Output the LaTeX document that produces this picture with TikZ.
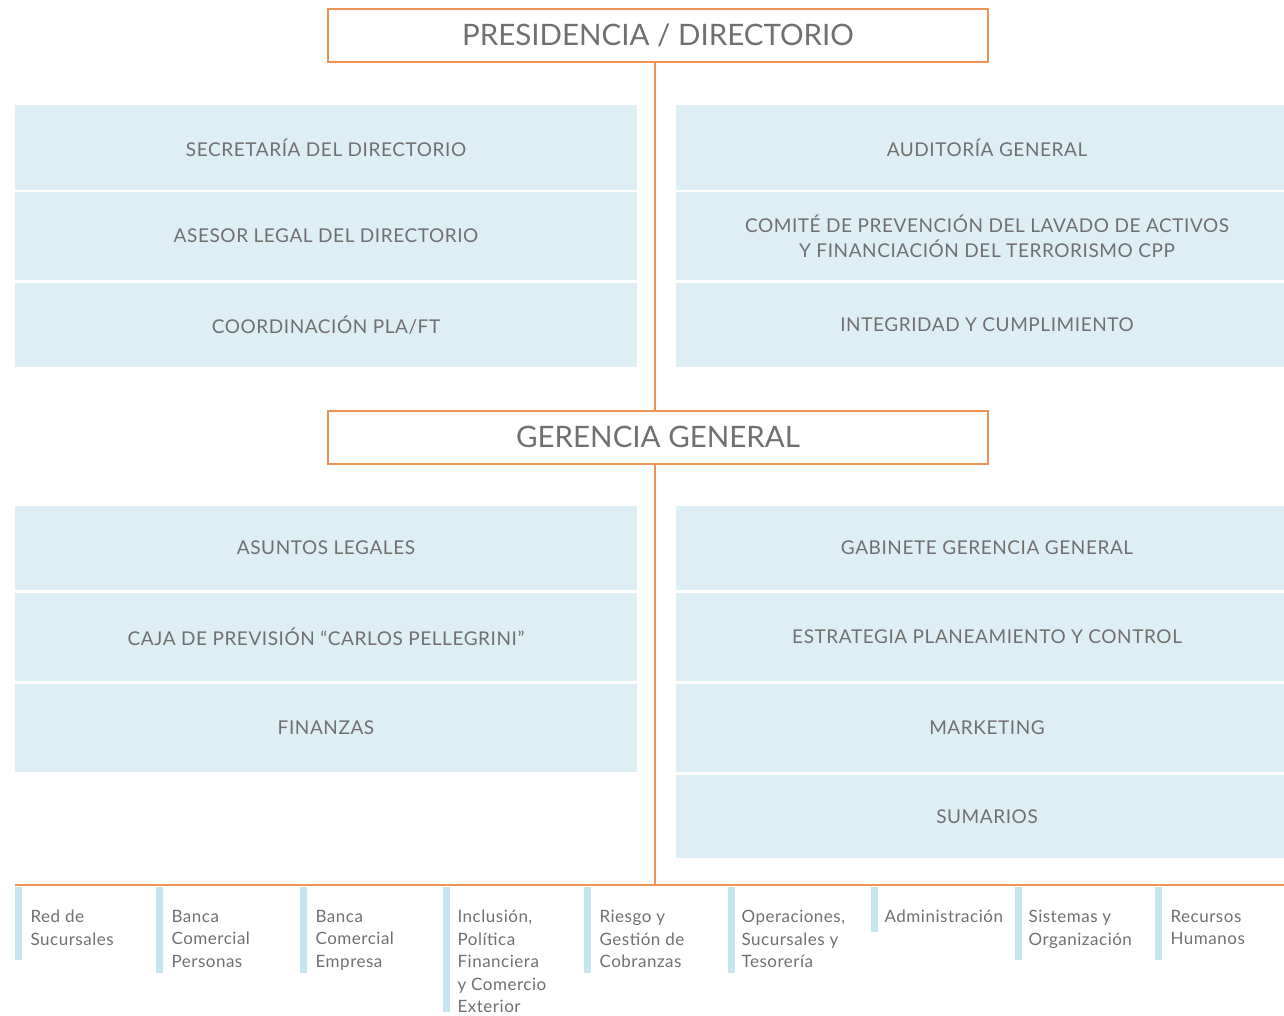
\documentclass[tikz,border=0pt]{standalone}
\usepackage{fontspec}
\setmainfont{Lato}
\definecolor{naranja}{RGB}{240,146,84}
\definecolor{celeste}{RGB}{222,238,245}
\definecolor{barrita}{RGB}{196,228,238}
\definecolor{gris}{RGB}{112,112,112}
\tikzset{
	cabecera/.style={draw=naranja, line width=2pt, fill=white, minimum width=660pt, minimum height=53pt, inner sep=0pt, text=gris, font=\fontsize{29.5}{30}\selectfont},
	celda/.style={fill=celeste, minimum width=622pt, inner sep=0pt, text=gris, align=center, font=\fontsize{19}{25}\selectfont\addfontfeature{LetterSpace=3}},
	barra/.style={fill=barrita, minimum width=7pt, inner sep=0pt, anchor=north west},
	rama/.style={anchor=north west, inner sep=0pt, align=left, text=gris, font=\fontsize{17}{22.5}\selectfont\addfontfeature{LetterSpace=3}},
	linea/.style={draw=naranja, line width=2.5pt}
}
\begin{document}
\begin{tikzpicture}[x=1pt,y=-1pt]
	\useasboundingbox (0,0) rectangle (1284,1015);
	% directorio
	\node [cabecera] (presidencia) at (658,35.5) {PRESIDENCIA / DIRECTORIO};
	\node [celda, minimum height=85pt] (secretaria) at (326,147.5) {SECRETARÍA DEL DIRECTORIO};
	\node [celda, minimum height=88pt] (asesor) at (326,236) {ASESOR LEGAL DEL DIRECTORIO};
	\node [celda, minimum height=84pt] (coordinacion) at (326,325) {COORDINACIÓN PLA/FT};
	\node [celda, minimum height=85pt] (auditoria) at (987,147.5) {AUDITORÍA GENERAL};
	\node [celda, minimum height=88pt] (comite) at (987,236) {COMITÉ DE PREVENCIÓN DEL LAVADO DE ACTIVOS\\Y FINANCIACIÓN DEL TERRORISMO CPP};
	\node [celda, minimum height=84pt] (integridad) at (987,325) {INTEGRIDAD Y CUMPLIMIENTO};
	% gerencia
	\node [cabecera] (gerencia) at (658,437) {GERENCIA GENERAL};
	\node [celda, minimum height=84pt] (asuntos) at (326,548) {ASUNTOS LEGALES};
	\node [celda, minimum height=88pt] (caja) at (326,637) {CAJA DE PREVISIÓN “CARLOS PELLEGRINI”};
	\node [celda, minimum height=88pt] (finanzas) at (326,728) {FINANZAS};
	\node [celda, minimum height=84pt] (gabinete) at (987,548) {GABINETE GERENCIA GENERAL};
	\node [celda, minimum height=88pt] (estrategia) at (987,637) {ESTRATEGIA PLANEAMIENTO Y CONTROL};
	\node [celda, minimum height=88pt] (marketing) at (987,728) {MARKETING};
	\node [celda, minimum height=83pt] (sumarios) at (987,816.5) {SUMARIOS};
	% conectores
	\coordinate (nudo) at (655,885);
	\coordinate (izq) at (15,885);
	\coordinate (der) at (1284,885);
	\draw [linea] (presidencia.south -| nudo) -- (gerencia.north -| nudo);
	\draw [linea] (gerencia.south -| nudo) -- (nudo);
	\draw [linea] (izq) -- (der);
	% gerencias de area
	\node [barra, minimum height=73pt] (b1) at (15,887) {};
	\node [barra, minimum height=86pt] (b2) at (156,887) {};
	\node [barra, minimum height=86pt] (b3) at (300,887) {};
	\node [barra, minimum height=125pt] (b4) at (443,887) {};
	\node [barra, minimum height=86pt] (b5) at (584,887) {};
	\node [barra, minimum height=86pt] (b6) at (728,887) {};
	\node [barra, minimum height=45pt] (b7) at (871,887) {};
	\node [barra, minimum height=73pt] (b8) at (1015,887) {};
	\node [barra, minimum height=73pt] (b9) at (1155,887) {};
	\node [rama] (r1) at ([xshift=8pt,yshift=-23pt]b1.north east) {Red de\\Sucursales};
	\node [rama] (r2) at ([xshift=8pt,yshift=-23pt]b2.north east) {Banca\\Comercial\\Personas};
	\node [rama] (r3) at ([xshift=8pt,yshift=-23pt]b3.north east) {Banca\\Comercial\\Empresa};
	\node [rama] (r4) at ([xshift=7pt,yshift=-23pt]b4.north east) {Inclusión,\\Política\\Financiera\\y Comercio\\Exterior};
	\node [rama] (r5) at ([xshift=8pt,yshift=-23pt]b5.north east) {Riesgo y\\Gestión de\\Cobranzas};
	\node [rama] (r6) at ([xshift=6pt,yshift=-23pt]b6.north east) {Operaciones,\\Sucursales y\\Tesorería};
	\node [rama] (r7) at ([xshift=6pt,yshift=-23pt]b7.north east) {Administración};
	\node [rama] (r8) at ([xshift=6pt,yshift=-23pt]b8.north east) {Sistemas y\\Organización};
	\node [rama] (r9) at ([xshift=8pt,yshift=-23pt]b9.north east) {Recursos\\Humanos};
\end{tikzpicture}
\end{document}
